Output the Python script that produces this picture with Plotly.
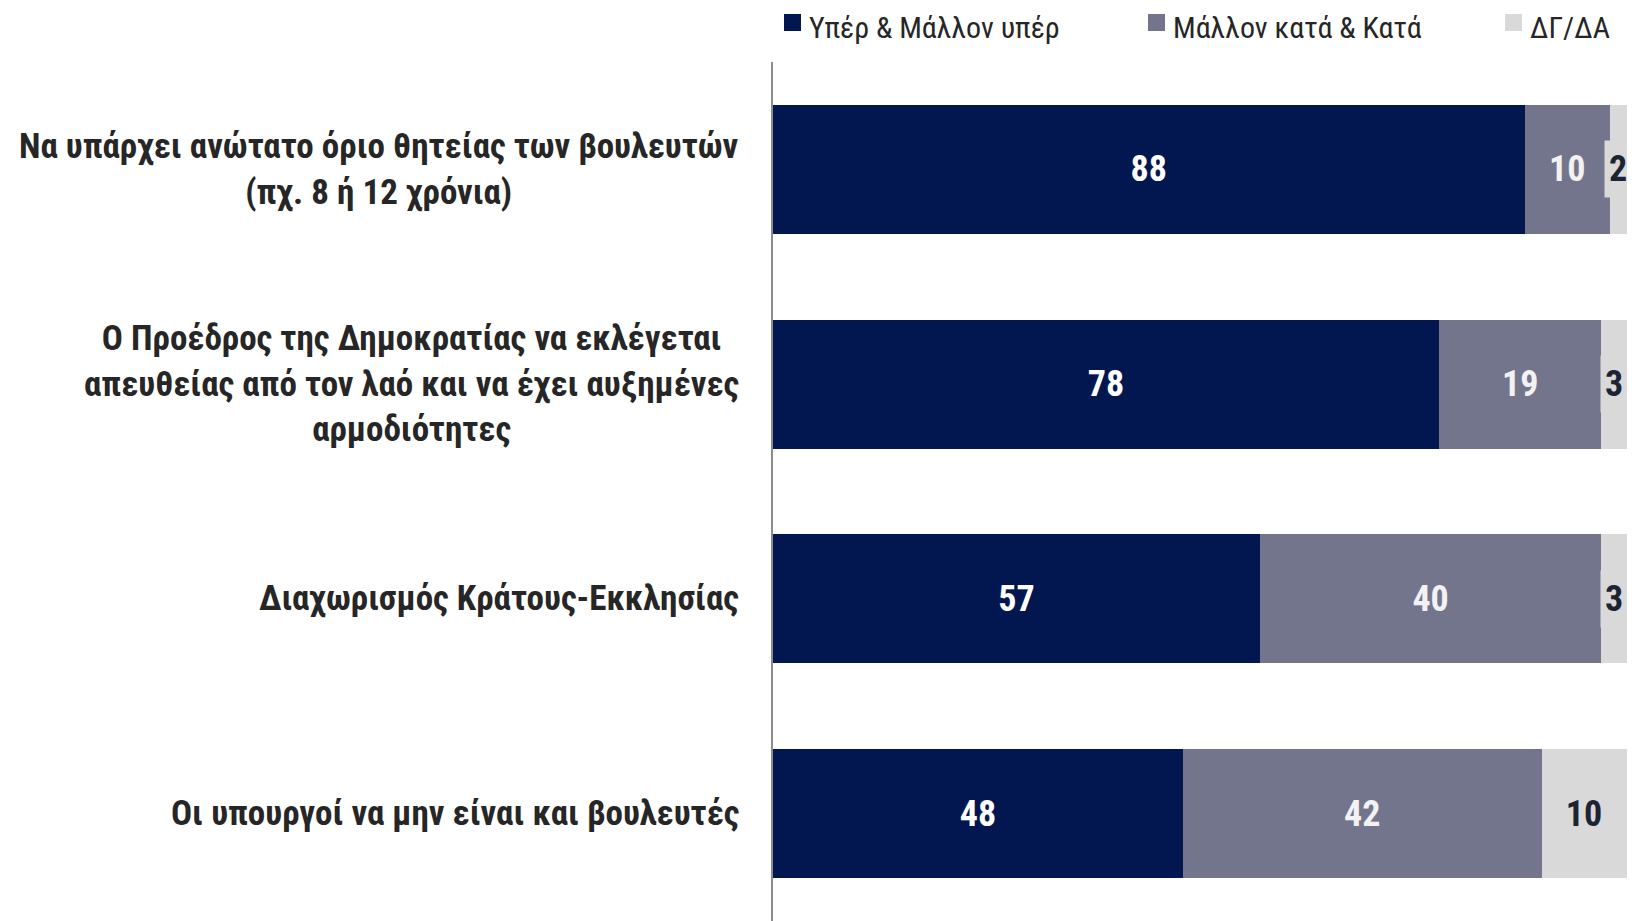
import plotly.graph_objects as go

# survey items (top to bottom)
items = [
    "Να υπάρχει ανώτατο όριο θητείας των βουλευτών<br>(πχ. 8 ή 12 χρόνια)",
    "Ο Προέδρος της Δημοκρατίας να εκλέγεται<br>απευθείας από τον λαό και να έχει αυξημένες<br>αρμοδιότητες",
    "Διαχωρισμός Κράτους-Εκκλησίας",
    "Οι υπουργοί να μην είναι και βουλευτές",
]
series_names = ["Υπέρ & Μάλλον υπέρ", "Μάλλον κατά & Κατά", "ΔΓ/ΔΑ"]
in_favour = [88, 78, 57, 48]
against = [10, 19, 40, 42]
dk_na = [2, 3, 3, 10]

colors = ["#02174f", "#73758c", "#d9d9d9"]
font_family = "Liberation Sans Narrow, Roboto Condensed, DejaVu Sans Condensed, Arial Narrow, sans-serif"
keys = list(range(len(items)))

# page body adds an 8px offset, so the figure is sized/margined to compensate
W, H = 1627, 913
ML, MR, MT, MB = 765, 8, 54, 0
plot_w = W - ML - MR
plot_h = H - MT - MB

fig = go.Figure()

fig.add_trace(go.Bar(
    y=keys, x=in_favour, orientation="h", name=series_names[0],
    marker=dict(color=colors[0], line=dict(width=0)),
    text=in_favour, textposition="inside", insidetextanchor="middle",
    textfont=dict(color="white", size=36, family=font_family, weight="bold"),
    hoverinfo="skip"))
fig.add_trace(go.Bar(
    y=keys, x=against, orientation="h", name=series_names[1],
    marker=dict(color=colors[1], line=dict(width=0)),
    text=against, textposition="inside", insidetextanchor="middle",
    textfont=dict(color="#f2f2f2", size=36, family=font_family, weight="bold"),
    hoverinfo="skip"))
fig.add_trace(go.Bar(
    y=keys, x=dk_na, orientation="h", name=series_names[2],
    marker=dict(color=colors[2], line=dict(width=0)),
    hoverinfo="skip"))

# labels for the ΔΓ/ΔΑ segments, with a grey box like the original
for i, v in enumerate(dk_na):
    fig.add_annotation(
        x=in_favour[i] + against[i] + v / 2, y=i, xref="x", yref="y",
        text=str(v), showarrow=False, bgcolor=colors[2],
        width=26 if v < 10 else 44, height=56, borderpad=0,
        font=dict(color="#1c2433", size=36, family=font_family, weight="bold"))

# category labels, centred multi-line text left of the axis
for i, label in enumerate(items):
    fig.add_annotation(
        x=0, y=i, xref="paper", yref="y", xanchor="right", xshift=-32,
        text=label, showarrow=False, align="center",
        font=dict(color="#262626", size=35, family=font_family, weight="bold"))

# hand-made legend across the top (window pixel positions)
legend_left_px = [784, 1148, 1505]
for name, col, px in zip(series_names, colors, legend_left_px):
    x0 = (px - 8 - ML) / plot_w
    x1 = (px + 17 - 8 - ML) / plot_w
    y0 = 1 + (MT - (31 - 8)) / plot_h
    y1 = 1 + (MT - (14 - 8)) / plot_h
    fig.add_shape(type="rect", xref="paper", yref="paper",
                  x0=x0, x1=x1, y0=y0, y1=y1,
                  fillcolor=col, line=dict(width=0))
    fig.add_annotation(
        x=(px + 24 - 8 - ML) / plot_w, y=1 + (MT - (27 - 8)) / plot_h,
        xref="paper", yref="paper", xanchor="left", yanchor="middle",
        text=name, showarrow=False, borderpad=0,
        font=dict(size=30, color="#262626", family=font_family))

fig.update_layout(
    width=W, height=H,
    margin=dict(l=ML, r=MR, t=MT, b=MB),
    barmode="stack", bargap=0.4, showlegend=False,
    plot_bgcolor="white", paper_bgcolor="white",
    font=dict(family=font_family),
)
fig.update_xaxes(range=[0, 100], visible=False)
fig.update_yaxes(
    range=[len(items) - 0.5, -0.5], showticklabels=False, showgrid=False,
    zeroline=False, showline=True, linecolor="#8c8c8c", linewidth=2, ticks="")

fig.write_html("out.html")
